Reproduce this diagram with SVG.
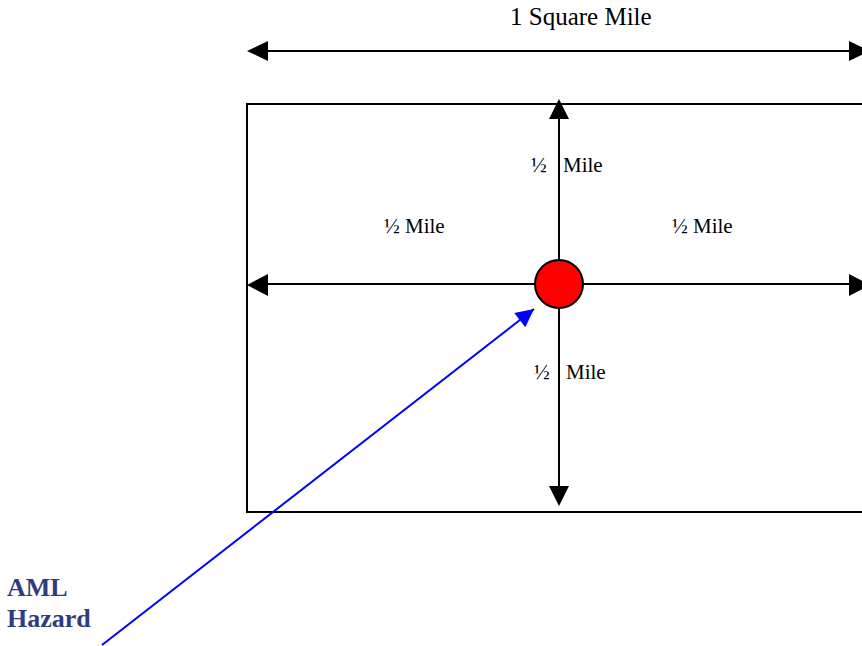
<svg xmlns="http://www.w3.org/2000/svg" width="862" height="646" viewBox="0 0 862 646">
<style>
.t{font-family:"Liberation Serif","Times New Roman",serif;font-size:21px;fill:#000}
.ln{stroke:#000;stroke-width:2;fill:none}
.h{font-family:"Liberation Serif","Times New Roman",serif;font-size:26px;font-weight:bold;fill:#2e3d7e}
</style>
<defs>
<marker id="ab" viewBox="0 0 10 10" refX="10" refY="5" markerWidth="22" markerHeight="18" markerUnits="userSpaceOnUse" orient="auto">
<path d="M0,0 L10,5 L0,10 Z" fill="#00f"/>
</marker>
</defs>
<rect width="862" height="646" fill="#fff"/>
<g id="square">
<rect x="247" y="104" width="630" height="408" class="ln"/>
</g>
<g id="connectors">
<line x1="268" y1="51" x2="850" y2="51" class="ln"/>
<polygon points="247,51 268,41 268,61" fill="#000"/>
<polygon points="870,51 849,41 849,61" fill="#000"/>
<line x1="559" y1="118" x2="559" y2="487" class="ln"/>
<polygon points="559,99 549,119 569,119" fill="#000"/>
<polygon points="559,506 549,486 569,486" fill="#000"/>
<line x1="268" y1="284" x2="850" y2="284" class="ln"/>
<polygon points="247,285 268,274 268,296" fill="#000"/>
<polygon points="870,285 849,274 849,296" fill="#000"/>
<line x1="102" y1="645" x2="534" y2="309" stroke="#00f" stroke-width="2" marker-end="url(#ab)"/>
</g>
<g id="center">
<circle cx="559" cy="284" r="24" fill="#f00" stroke="#000" stroke-width="2"/>
</g>
<g id="labels">
<text x="510" y="25" class="t" style="font-size:25px">1 Square Mile</text>
<text x="531" y="172" class="t">½</text>
<text x="563" y="172" class="t">Mile</text>
<text x="384" y="233" class="t">½ Mile</text>
<text x="672" y="233" class="t">½ Mile</text>
<text x="534" y="379" class="t">½</text>
<text x="566" y="379" class="t">Mile</text>
</g>
<g id="hazard">
<text x="7" y="596" class="h">AML</text>
<text x="7" y="627" class="h">Hazard</text>
</g>
</svg>
